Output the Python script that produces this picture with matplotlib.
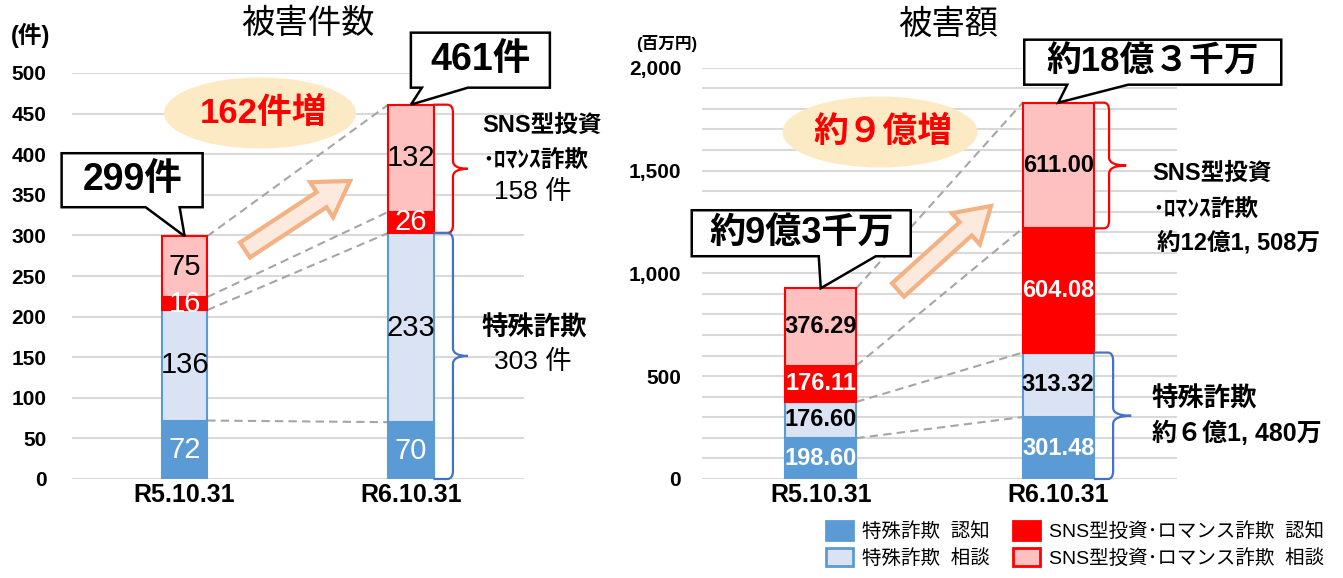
# 被害件数・被害額 (特殊詐欺 / SNS型投資・ロマンス詐欺) stacked bar charts

import numpy as np
import matplotlib
matplotlib.use('Agg')
import matplotlib.pyplot as plt
from matplotlib.patches import Patch, Polygon, Ellipse, PathPatch
from matplotlib.path import Path

plt.rcParams['font.family'] = ['Liberation Sans', 'Noto Sans CJK JP']

# ---- data ----
dates = ['R5.10.31', 'R6.10.31']
legend_labels = ['特殊詐欺  認知', '特殊詐欺  相談',
                 'SNS型投資･ロマンス詐欺  認知', 'SNS型投資･ロマンス詐欺  相談']

count_tokushu_ninchi = [72, 70]
count_tokushu_soudan = [136, 233]
count_sns_ninchi = [16, 26]
count_sns_soudan = [75, 132]

amount_tokushu_ninchi = [198.60, 301.48]
amount_tokushu_soudan = [176.60, 313.32]
amount_sns_ninchi = [176.11, 604.08]
amount_sns_soudan = [376.29, 611.00]

amount_total_text = ['約9億3千万', '約18億３千万']
amount_increase_text = '約９億増'
amount_sns_text = '約12億1, 508万'
amount_tokushu_text = '約６億1, 480万'

# ---- style ----
W, H = 1343, 578
DARK_BLUE = '#5B9BD5'
LIGHT_BLUE = '#DAE3F3'
RED = '#FF0000'
PINK = '#FFC0C0'
BRACE_BLUE = '#4472C4'
GRID = '#D9D9D9'

fig = plt.figure(figsize=(W / 100, H / 100), dpi=100)


def fx(x):
    return x / W


def fy(y):
    return 1 - y / H


def stacked(ax, segs, width, fmt, size, weight):
    x = np.arange(len(dates))
    bottom = np.zeros(len(dates))
    styles = [(DARK_BLUE, DARK_BLUE, 'white'), (LIGHT_BLUE, DARK_BLUE, 'black'),
              (RED, RED, 'white'), (PINK, RED, 'black')]
    levels = []
    for vals, (fc, ec, tc) in zip(segs, styles):
        vals = np.array(vals, dtype=float)
        ax.bar(x, vals, width, bottom=bottom, color=fc, edgecolor=ec, linewidth=1.5, zorder=3)
        for xi, b, v in zip(x, bottom, vals):
            ax.text(xi, b + v / 2, fmt.format(v), ha='center', va='center', color=tc,
                    fontsize=size, fontweight=weight, zorder=5)
        bottom = bottom + vals
        levels.append(bottom.copy())
    for lv in levels:
        ax.plot([width / 2, 1 - width / 2], lv, ls=(0, (4, 2.5)), color='#A6A6A6', lw=1.5, zorder=2)
    return levels


def setup(ax, ymax, step, minor, pad, labels):
    ax.set_xlim(-0.5, 1.5)
    ax.set_ylim(0, ymax)
    ticks = np.arange(0, ymax + 1, step)
    ax.set_yticks(ticks, labels=labels, fontsize=15, fontweight='bold')
    if minor:
        ax.set_yticks(np.arange(0, ymax + 1, minor), minor=True)
    ax.grid(axis='y', which='both', color=GRID, lw=1.5, zorder=0)
    ax.set_axisbelow(True)
    for s in ax.spines.values():
        s.set_visible(False)
    ax.tick_params(which='both', length=0)
    ax.tick_params(axis='y', pad=pad)
    ax.tick_params(axis='x', pad=3)
    ax.set_xticks([0, 1], dates, fontsize=18, fontweight='bold')


def callout(ax, xd, yd, text, box, base, size):
    tx, ty = ax.transData.transform((xd, yd))
    l, r, t, b = box
    bl, br = base
    pts = [(tx + l, ty + b), (tx + bl, ty + b), (tx, ty), (tx + br, ty + b),
           (tx + r, ty + b), (tx + r, ty + t), (tx + l, ty + t)]
    pts = [(px / W, py / H) for px, py in pts]
    fig.add_artist(Polygon(pts, closed=True, transform=fig.transFigure, fc='white',
                           ec='black', lw=1.8, zorder=10))
    fig.text((tx + (l + r) / 2) / W, (ty + (t + b) / 2) / H, text, ha='center', va='center',
             fontsize=size, fontweight='bold', zorder=11)


def brace(ax, x0, x1, x2, lo, hi, color, rx, ry):
    mid = (lo + hi) / 2
    verts = [(x0, hi), (x1 - rx, hi), (x1, hi), (x1, hi - ry), (x1, mid + ry), (x1, mid),
             (x2, mid), (x1, mid), (x1, mid - ry), (x1, lo + ry), (x1, lo), (x1 - rx, lo), (x0, lo)]
    codes = [Path.MOVETO, Path.LINETO, Path.CURVE3, Path.CURVE3, Path.LINETO, Path.CURVE3,
             Path.CURVE3, Path.CURVE3, Path.CURVE3, Path.LINETO, Path.CURVE3, Path.CURVE3, Path.LINETO]
    ax.add_patch(PathPatch(Path(verts, codes), fc='none', ec=color, lw=1.6, clip_on=False, zorder=4))


def fat_arrow(tail, tip, shaft=9, head=21, hl=34):
    t = np.array(tail, float)
    p = np.array(tip, float)
    u = (p - t) / np.linalg.norm(p - t)
    n = np.array([-u[1], u[0]])
    hb = p - u * hl
    pts = [t + n * shaft, hb + n * shaft, hb + n * head, p, hb - n * head, hb - n * shaft, t - n * shaft]
    pts = [(fx(x), fy(y)) for x, y in pts]
    fig.add_artist(Polygon(pts, closed=True, transform=fig.transFigure, fc='#FCEADF',
                           ec='#F4B183', lw=3, joinstyle='miter', zorder=6))


def bubble(cx, cy, w, h, text):
    fig.add_artist(Ellipse((fx(cx), fy(cy)), w / W, h / H, transform=fig.transFigure,
                           fc='#FCEAC4', ec='none', zorder=1))
    fig.text(fx(cx + 3), fy(cy), text, ha='center', va='center', color=RED,
             fontsize=25, fontweight='bold', zorder=7)


# ---- left: 被害件数 ----
ax1 = fig.add_axes([fx(71.5), fy(479), (524 - 71.5) / W, (479 - 73) / H])
setup(ax1, 500, 50, None, 18, [str(v) for v in range(0, 501, 50)])
lv1 = stacked(ax1, [count_tokushu_ninchi, count_tokushu_soudan, count_sns_ninchi, count_sns_soudan],
              0.2, '{:.0f}', 21, 'normal')
tot1 = lv1[-1]
callout(ax1, 0, tot1[0], f'{tot1[0]:.0f}件', (-123, 18, 83, 29), (-39, -5), 27)
callout(ax1, 1, tot1[1], f'{tot1[1]:.0f}件', (0, 139, 72, 17), (11, 57), 27)
brace(ax1, 1.1, 1.186, 1.252, lv1[1][1], tot1[1], RED, 0.025, 10)
brace(ax1, 1.1, 1.186, 1.252, 0, lv1[1][1], BRACE_BLUE, 0.025, 10)
bubble(260, 113, 192, 71, f'{tot1[1] - tot1[0]:.0f}件増')
fat_arrow((245, 250), (350, 181))

fig.text(fx(482), fy(125), 'SNS型投資', fontsize=17, fontweight='bold', va='center')
fig.text(fx(482), fy(160), '･ﾛﾏﾝｽ詐欺', fontsize=17, fontweight='bold', va='center')
fig.text(fx(494), fy(192), f'{tot1[1] - lv1[1][1]:.0f} 件', fontsize=19, va='center')
fig.text(fx(482), fy(328), '特殊詐欺', fontsize=19, fontweight='bold', va='center')
fig.text(fx(494), fy(362), f'{lv1[1][1]:.0f} 件', fontsize=19, va='center')

fig.text(fx(308), fy(24), '被害件数', fontsize=24, ha='center', va='center')
fig.text(fx(31), fy(35), '(件)', fontsize=17, fontweight='bold', ha='center', va='center')

# ---- right: 被害額 ----
ax2 = fig.add_axes([fx(702), fy(479), (1177 - 702) / W, (479 - 67.7) / H])
setup(ax2, 2000, 500, 100, 15, [f'{v:,}' for v in range(0, 2001, 500)])
lv2 = stacked(ax2, [amount_tokushu_ninchi, amount_tokushu_soudan, amount_sns_ninchi, amount_sns_soudan],
              0.3, '{:.2f}', 17, 'bold')
tot2 = lv2[-1]
callout(ax2, 0, tot2[0], amount_total_text[0], (-129, 90, 78, 32), (-2, 55), 26)
callout(ax2, 1, tot2[1], amount_total_text[1], (-34, 223, 63, 18), (9, 70), 25)
brace(ax2, 1.15, 1.214, 1.286, lv2[2][1], tot2[1], RED, 0.022, 40)
brace(ax2, 1.15, 1.231, 1.307, 0, lv2[1][1], BRACE_BLUE, 0.022, 40)
bubble(880, 132, 195, 71, amount_increase_text)
fat_arrow((898, 290), (991, 206))

fig.text(fx(1152), fy(173), 'SNS型投資', fontsize=17, fontweight='bold', va='center')
fig.text(fx(1152), fy(209), '･ﾛﾏﾝｽ詐欺', fontsize=17, fontweight='bold', va='center')
fig.text(fx(1157), fy(243), amount_sns_text, fontsize=17, fontweight='bold', va='center')
fig.text(fx(1152), fy(399), '特殊詐欺', fontsize=19, fontweight='bold', va='center')
fig.text(fx(1152), fy(433), amount_tokushu_text, fontsize=18, fontweight='bold', va='center')

fig.text(fx(948), fy(25), '被害額', fontsize=24, ha='center', va='center')
fig.text(fx(667), fy(44), '(百万円)', fontsize=12, fontweight='bold', ha='center', va='center')

# ---- legend ----
handles = [Patch(fc=DARK_BLUE, ec=DARK_BLUE, lw=2), Patch(fc=LIGHT_BLUE, ec=DARK_BLUE, lw=2),
           Patch(fc=RED, ec=RED, lw=2), Patch(fc=PINK, ec=RED, lw=2)]
fig.legend(handles, legend_labels, loc='upper left', bbox_to_anchor=(fx(826), fy(521)), ncol=2,
           frameon=False, fontsize=14, handlelength=1.4, handleheight=1.1, handletextpad=0.45,
           columnspacing=1.2, labelspacing=0.35, borderpad=0, borderaxespad=0)

plt.savefig('out.png', dpi=100)
